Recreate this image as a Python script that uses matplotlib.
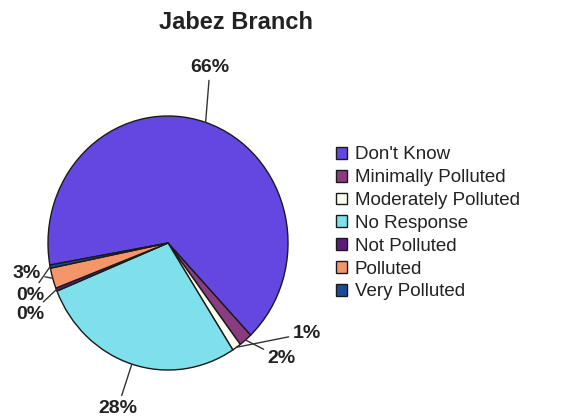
import matplotlib
matplotlib.use('Agg')
import matplotlib.pyplot as plt
import numpy as np

plt.rcParams['font.family'] = ['Liberation Sans', 'DejaVu Sans']

# survey answers, Jabez Branch (percent of responses)
categories = ['Don\'t Know', 'Minimally Polluted', 'Moderately Polluted', 'No Response',
              'Not Polluted', 'Polluted', 'Very Polluted']
shares = [65.7, 1.8, 1.2, 27.9, 0.4, 2.6, 0.4]
colors = ['#6446e0', '#8a3c80', '#fdfdf0', '#7ee0ea', '#5a1e78', '#f5966a', '#1a4a9a']

# where each percentage label sits (data units, pie radius = 1)
label_pos = [(0.35, 1.38), (0.83, -0.91), (1.04, -0.71), (-0.42, -1.30),
             (-1.03, -0.56), (-1.06, -0.24), (-1.03, -0.41)]
label_ha = ['center', 'left', 'left', 'center', 'right', 'right', 'right']

fig = plt.figure(figsize=(5.75, 4.18), dpi=100)
ax = fig.add_axes([0.0835, 0.1148, 0.4174, 0.6077])

wedges, _ = ax.pie(shares, colors=colors, startangle=190, counterclock=False,
                   wedgeprops=dict(edgecolor='#1a1a1a', linewidth=1.0))
ax.set_aspect('auto')
ax.set_xlim(-1, 1)
ax.set_ylim(-1, 1)

total = float(sum(shares))
for w, v, pos, ha in zip(wedges, shares, label_pos, label_ha):
    mid = np.deg2rad((w.theta1 + w.theta2) / 2.0)
    ax.annotate('%.0f%%' % (100.0 * v / total), xy=(np.cos(mid), np.sin(mid)),
                xytext=pos, ha=ha, va='center', fontsize=14, fontweight='bold',
                color='#222222', annotation_clip=False,
                arrowprops=dict(arrowstyle='-', color='#333333', lw=1.0,
                                shrinkA=1, shrinkB=0))

fig.text(0.41, 0.947, 'Jabez Branch', ha='center', va='center',
         fontsize=17, fontweight='bold', color='#222222')

leg = fig.legend(wedges, categories, loc='upper left', bbox_to_anchor=(0.568, 0.672),
                 frameon=False, fontsize=13.5, handlelength=0.6, handleheight=0.6,
                 handletextpad=0.4, labelspacing=0.31, borderpad=0)
for t in leg.get_texts():
    t.set_color('#222222')

fig.savefig('out.png', dpi=100)
